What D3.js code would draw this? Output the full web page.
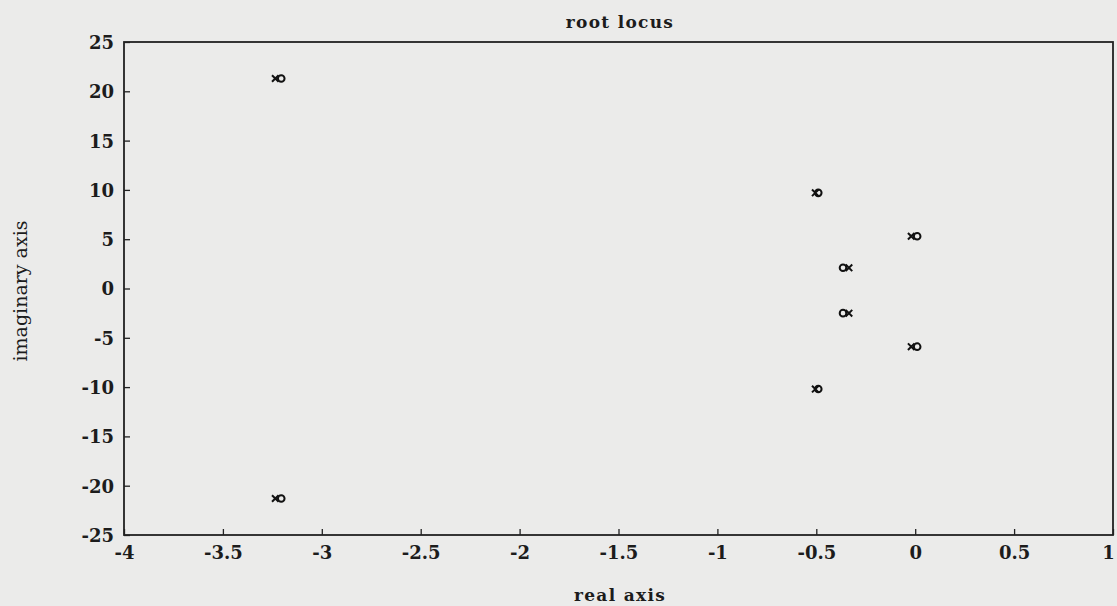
<!DOCTYPE html>
<html>
<head>
<meta charset="utf-8">
<script src="https://cdn.jsdelivr.net/npm/d3@7"></script>
<style>
  body { margin: 0; background: #ebebea; }
  svg { display: block; }
  text { font-family: "DejaVu Serif", "Liberation Serif", serif; fill: #1c1c1c; }
</style>
</head>
<body>
<svg id="chart" width="1117" height="606"></svg>
<script>
// Closed-loop poles (x) and zeros (o)
const poleRe = [-3.235, -3.235, -0.505, -0.505, -0.335, -0.335, -0.02, -0.02];
const poleIm = [21.3, -21.3, 9.7, -10.2, 2.1, -2.5, 5.3, -5.9];
const zeroRe = [-3.205, -3.205, -0.49, -0.49, -0.365, -0.365, 0.01, 0.01];
const zeroIm = [21.3, -21.3, 9.7, -10.2, 2.1, -2.5, 5.3, -5.9];

const xTicks = [-4, -3.5, -3, -2.5, -2, -1.5, -1, -0.5, 0, 0.5, 1];
const yTicks = [-25, -20, -15, -10, -5, 0, 5, 10, 15, 20, 25];

const svg = d3.select("#chart");
const mLeft = 124, mRight = 1113, mTop = 42, mBottom = 535;

const x = d3.scaleLinear().domain([-4, 1]).range([mLeft, mRight]);
const y = d3.scaleLinear().domain([-25, 25]).range([mBottom, mTop]);

const fmt = d => String(d);

const xAxis = svg.append("g")
  .attr("transform", `translate(0,${mBottom})`)
  .call(d3.axisBottom(x).tickValues(xTicks).tickFormat(fmt).tickSizeInner(-6).tickSizeOuter(0).tickPadding(11));
const yAxis = svg.append("g")
  .attr("transform", `translate(${mLeft},0)`)
  .call(d3.axisLeft(y).tickValues(yTicks).tickFormat(fmt).tickSizeInner(-6).tickSizeOuter(0).tickPadding(10));

[xAxis, yAxis].forEach(g => {
  g.select(".domain").remove();
  g.selectAll(".tick line").attr("stroke", "#222").attr("stroke-width", 1.3);
  g.selectAll(".tick text").attr("font-size", 18).attr("font-weight", "bold").attr("fill", "#1c1c1c")
    .attr("font-family", "'DejaVu Serif', serif");
});
xAxis.selectAll(".tick text").attr("dy", "0.71em");
yAxis.selectAll(".tick text").attr("dy", "0.36em");
// keep the last x label inside the page edge
xAxis.selectAll(".tick text").filter(d => d === 1).attr("dx", -5);

// Frame
svg.append("rect")
  .attr("x", mLeft).attr("y", mTop)
  .attr("width", mRight - mLeft).attr("height", mBottom - mTop)
  .attr("fill", "none").attr("stroke", "#222").attr("stroke-width", 1.8);

// Pole markers
const s = 3.3;
svg.append("g").selectAll("path")
  .data(poleRe.map((r, i) => [r, poleIm[i]]))
  .join("path")
  .attr("d", d => {
    const cx = x(d[0]), cy = y(d[1]);
    return `M${cx - s},${cy - s}L${cx + s},${cy + s}M${cx - s},${cy + s}L${cx + s},${cy - s}`;
  })
  .attr("stroke", "#111").attr("stroke-width", 2);

// Zero markers
svg.append("g").selectAll("circle")
  .data(zeroRe.map((r, i) => [r, zeroIm[i]]))
  .join("circle")
  .attr("cx", d => x(d[0])).attr("cy", d => y(d[1]))
  .attr("r", 3.3)
  .attr("fill", "none").attr("stroke", "#111").attr("stroke-width", 2);

// Titles
svg.append("text")
  .attr("x", 620).attr("y", 28)
  .attr("text-anchor", "middle").attr("font-size", 17).attr("font-weight", "bold")
  .attr("letter-spacing", 1.3)
  .text("root locus");
svg.append("text")
  .attr("x", 620).attr("y", 601)
  .attr("text-anchor", "middle").attr("font-size", 17).attr("font-weight", "bold")
  .attr("letter-spacing", 1.3)
  .text("real axis");
svg.append("text")
  .attr("transform", `translate(27,291) rotate(-90)`)
  .attr("text-anchor", "middle").attr("font-size", 19)
  .attr("font-family", "'Liberation Serif', serif")
  .text("imaginary axis");
</script>
</body>
</html>
